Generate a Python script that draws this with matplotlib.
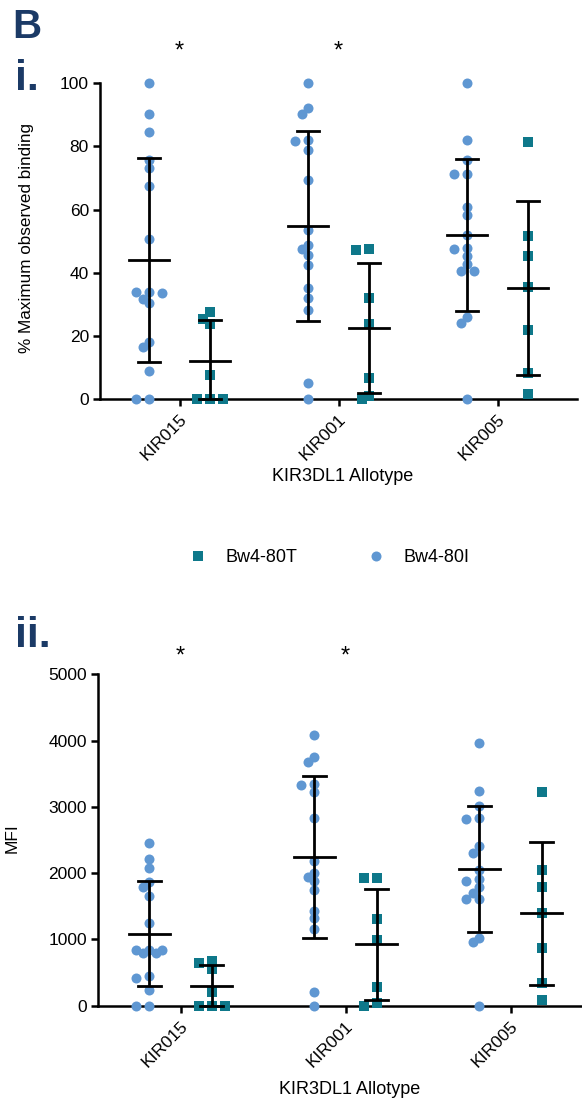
import numpy as np
import matplotlib
matplotlib.use("Agg")
import matplotlib.pyplot as plt
from matplotlib.lines import Line2D

plt.rcParams['font.family'] = ['Liberation Sans', 'DejaVu Sans']

# ---------------- data ----------------
allotypes = ["KIR015", "KIR001", "KIR005"]
series_labels = ["Bw4-80T", "Bw4-80I"]
x_label = "KIR3DL1 Allotype"
top_ylabel = "% Maximum observed binding"
bottom_ylabel = "MFI"
top_yticks = [0, 20, 40, 60, 80, 100]
bottom_yticks = [0, 1000, 2000, 3000, 4000, 5000]
significant = ["*", "*", ""]

# panel i: % maximum observed binding
bind_80I_KIR015 = [100, 90.3, 84.5, 75.6, 73.0, 67.4, 50.6, 34.0, 33.7, 34.0,
                   31.9, 30.5, 18.2, 16.6, 9.1, 0, 0]
bind_80I_KIR001 = [100, 92.1, 90.2, 82.1, 81.6, 78.7, 69.3, 53.5, 48.7, 47.5,
                   45.8, 42.6, 35.3, 32.2, 28.2, 5.1, 0]
bind_80I_KIR005 = [100, 82.1, 75.8, 71.3, 71.3, 60.8, 58.2, 51.9, 47.4, 47.9,
                   45.3, 42.7, 40.5, 40.5, 26.1, 24.2, 0]
bind_80T_KIR015 = [27.5, 24.0, 25.4, 7.7, 0, 0, 0]
bind_80T_KIR001 = [47.2, 47.4, 32.1, 24.0, 6.8, 0, 1.0]
bind_80T_KIR005 = [81.4, 51.6, 45.3, 35.4, 21.9, 8.4, 1.6]

# panel ii: MFI
mfi_80I_KIR015 = [2460, 2218, 2072, 1861, 1796, 1655, 1252, 840, 840, 790,
                  790, 840, 448, 412, 236, 0, 0]
mfi_80I_KIR001 = [4084, 3757, 3682, 3345, 3325, 3224, 2827, 2188, 1997, 1947,
                  1876, 1745, 1434, 1318, 1152, 211, 0]
mfi_80I_KIR005 = [3959, 3244, 3013, 2827, 2817, 2409, 2309, 2047, 1906, 1881,
                  1796, 1695, 1605, 1605, 1026, 961, 0]
mfi_80T_KIR015 = [639, 679, 550, 211, 0, 0, 0]
mfi_80T_KIR001 = [1931, 1931, 1313, 991, 287, 0, 45]
mfi_80T_KIR005 = [3224, 2047, 1796, 1393, 865, 337, 86]

# ---------------- style ----------------
W, H = 582, 1098
DPI = 100
C_80I = "#5F97D2"
C_80T = "#0E788A"
NAVY = "#1B3A66"
MS_C = 7.2
MS_S = 6.6
LW = 2.0

fig = plt.figure(figsize=(W / DPI, H / DPI), dpi=DPI)


def add_axes_px(left, top, right, bottom):
    return fig.add_axes([left / W, 1 - bottom / H, (right - left) / W, (bottom - top) / H])


def ftxt(x, y, s, **kw):
    fig.text(x / W, 1 - y / H, s, **kw)


def swarm(ax, values, d_px=7.2, step=6.5):
    """Greedy beeswarm on a grid of horizontal slots (pixel space)."""
    t = ax.transData
    p0 = t.transform((0, 0))
    p1 = t.transform((1, 1))
    sx, sy = p1[0] - p0[0], p1[1] - p0[1]
    vals = np.asarray(values, float)
    order = np.argsort(-vals, kind="stable")
    cands = [0.0]
    for k in range(1, 8):
        cands += [-k * step, k * step]
    placed = []
    offs = np.zeros(len(vals))
    for i in order:
        y = vals[i] * sy
        for c in cands:
            if all((c - px) ** 2 + (y - py) ** 2 >= d_px ** 2 for px, py in placed):
                break
        placed.append((c, y))
        offs[i] = c / sx
    return offs


def panel(ax, data_80I, data_80T, ylim, yticks):
    ax.set_xlim(-0.5, 2.5)
    ax.set_ylim(*ylim)
    for sp in ["top", "right"]:
        ax.spines[sp].set_visible(False)
    for sp in ["left", "bottom"]:
        ax.spines[sp].set_linewidth(1.8)
    ax.set_yticks(yticks)
    ax.set_yticklabels([str(v) for v in yticks], fontsize=12.5)
    ax.set_xticks(range(len(allotypes)))
    ax.set_xticklabels(allotypes, rotation=45, ha="right", va="top",
                       rotation_mode="anchor", fontsize=12.5)
    ax.tick_params(axis="both", width=1.8, length=5, direction="out", pad=3)
    ax.tick_params(axis="x", pad=4)
    off = 0.19
    for i, (a, b) in enumerate(zip(data_80I, data_80T)):
        for vals, dx, mk, ms, col in [(a, -off, "o", MS_C, C_80I), (b, off, "s", MS_S, C_80T)]:
            vals = np.asarray(vals, float)
            xs = i + dx + swarm(ax, vals)
            ax.plot(xs, vals, ls="none", marker=mk, ms=ms, mfc=col, mec=col,
                    mew=0, clip_on=False, zorder=3)
            m = vals.mean()
            s = vals.std(ddof=1)
            lo = max(m - s, ylim[0])
            hi = m + s
            xc = i + dx
            ax.plot([xc, xc], [lo, hi], color="black", lw=LW, zorder=4,
                    solid_capstyle="butt")
            ax.plot([xc - 0.125, xc + 0.125], [m, m], color="black", lw=LW, zorder=4)
            for yy in (lo, hi):
                ax.plot([xc - 0.07, xc + 0.07], [yy, yy], color="black", lw=LW, zorder=4,
                        clip_on=False)


# panel i
ax1 = add_axes_px(100, 83, 577, 399.5)
panel(ax1,
      [bind_80I_KIR015, bind_80I_KIR001, bind_80I_KIR005],
      [bind_80T_KIR015, bind_80T_KIR001, bind_80T_KIR005],
      (0, 100), top_yticks)

# panel ii
ax2 = add_axes_px(98, 674.3, 593, 1005.7)
panel(ax2,
      [mfi_80I_KIR015, mfi_80I_KIR001, mfi_80I_KIR005],
      [mfi_80T_KIR015, mfi_80T_KIR001, mfi_80T_KIR005],
      (0, 5000), bottom_yticks)

# labels
ftxt(27, 238, top_ylabel, rotation=90, ha="center", va="center", fontsize=12.3)
ftxt(12, 838, bottom_ylabel, rotation=90, ha="center", va="center", fontsize=12.5)
ftxt(343, 477, x_label, ha="center", va="center", fontsize=13)
ftxt(350, 1089, x_label, ha="center", va="center", fontsize=13)

# panel letters
ftxt(12, 38, "B", ha="left", va="baseline", fontsize=29, fontweight="bold", color=NAVY)
ftxt(15, 90, "i.", ha="left", va="baseline", fontsize=31, fontweight="bold", color=NAVY)
ftxt(15, 647, "ii.", ha="left", va="baseline", fontsize=31, fontweight="bold", color=NAVY)

# significance stars
for ax, ystar in [(ax1, 52), (ax2, 657)]:
    for i, s in enumerate(significant):
        if s:
            xpx = ax.transData.transform((i, 0))[0]
            ftxt(xpx, ystar, s, ha="center", va="center", fontsize=17)

# legend
handles = [Line2D([], [], ls="none", marker="s", ms=MS_S, mfc=C_80T, mec=C_80T, mew=0),
           Line2D([], [], ls="none", marker="o", ms=MS_C, mfc=C_80I, mec=C_80I, mew=0)]
fig.legend(handles, series_labels, ncol=2, loc="center left",
           bbox_to_anchor=(189 / W, 1 - 558 / H), frameon=False, fontsize=13,
           handlelength=1.0, handletextpad=1.0, columnspacing=3.9, borderpad=0,
           borderaxespad=0)

fig.savefig("out.png", dpi=DPI)
